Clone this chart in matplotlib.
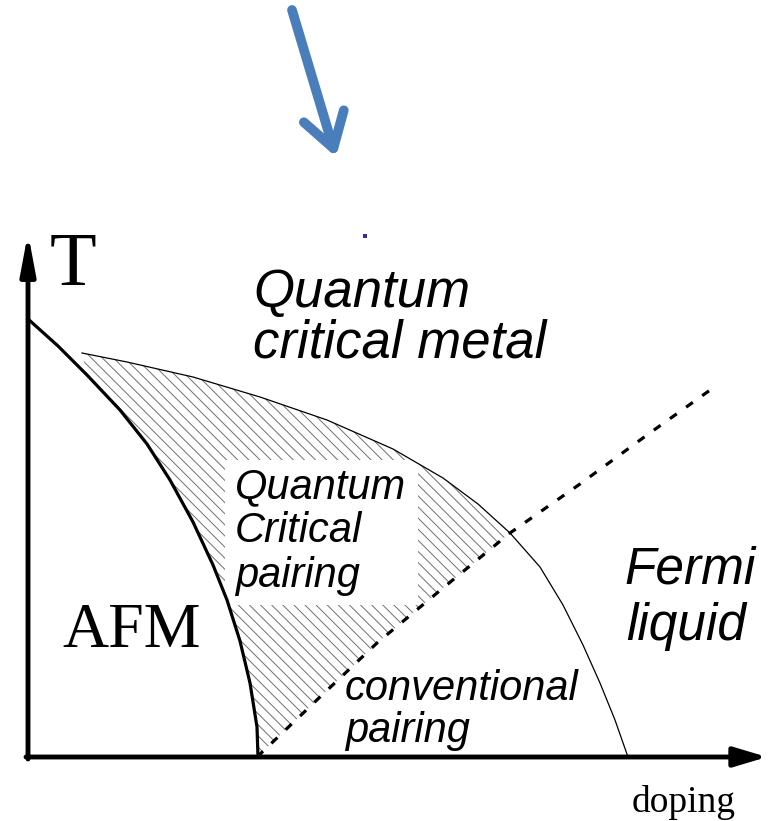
import matplotlib.pyplot as plt
import matplotlib.patches as mpatches
import numpy as np

# boundary curves (doping, T) in arbitrary units, origin at axis corner
afm_doping = [0, 30, 59, 92, 119, 142, 165, 185, 199, 212, 222, 229, 230]
afm_T = [438, 411, 382, 347, 313, 277, 235, 192, 157, 116, 74, 30, 0]

dome_doping = [54, 99, 165, 232, 299, 365, 415, 450, 482, 512, 535, 555, 572, 587, 600]
dome_T = [404, 395, 380, 360, 337, 308, 279, 253, 224, 190, 152, 112, 74, 37, 0]

cross_doping = [229, 292, 349, 415, 482, 552, 619, 685]
cross_T = [0, 60, 114, 169, 224, 273, 322, 369]

box_doping = [197, 390]
box_T = [152, 297]

labels_serif = ['T', 'AFM', 'doping']
labels_serif_xy = [(22, 472), (34, 110), (604, -55)]
labels_serif_size = [55, 46, 27]

labels_sans = ['Quantum', 'critical metal', 'Quantum', 'Critical', 'pairing',
               'Fermi', 'liquid', 'conventional', 'pairing']
labels_sans_xy = [(225, 450), (225, 400), (207, 259), (207, 215), (207, 170),
                  (596, 174), (598, 117), (317, 57), (317, 15)]
labels_sans_size = [38, 38, 30, 30, 30, 37, 37, 30, 30]

plt.rcParams['hatch.linewidth'] = 0.7

fig = plt.figure(figsize=(7.74, 8.21), dpi=100)
ax = fig.add_axes([0, 0, 1, 1])
ax.set_xlim(-28, 746)
ax.set_ylim(-64, 757)
ax.axis('off')

# hatched quantum critical pairing region
i_cross = dome_doping.index(482)
j_cross = cross_doping.index(482)
poly_x = dome_doping[:i_cross + 1] + cross_doping[:j_cross][::-1] + afm_doping[::-1][1:-2]
poly_y = dome_T[:i_cross + 1] + cross_T[:j_cross][::-1] + afm_T[::-1][1:-2]
hatch = mpatches.Polygon(np.column_stack([poly_x, poly_y]), closed=True,
                         facecolor='none', edgecolor='#707070', linewidth=0,
                         hatch='\\\\\\')
ax.add_patch(hatch)
ax.add_patch(mpatches.Rectangle((box_doping[0], box_T[0]), box_doping[1] - box_doping[0],
                                box_T[1] - box_T[0], facecolor='white', edgecolor='none'))

ax.plot(afm_doping, afm_T, color='black', lw=2.3, solid_joinstyle='round')
ax.plot(dome_doping, dome_T, color='black', lw=0.9, solid_joinstyle='round')
ax.plot(cross_doping, cross_T, color='black', lw=2.3, linestyle=(0, (2.6, 3.6)))

# axes arrows
ax.annotate('', xy=(0, 524), xytext=(0, -2),
            arrowprops=dict(arrowstyle='-|>,head_length=24,head_width=4.5', mutation_scale=1,
                            lw=3.5, color='black', shrinkA=0, shrinkB=0))
ax.annotate('', xy=(739, 0), xytext=(-2, 0),
            arrowprops=dict(arrowstyle='-|>,head_length=20,head_width=6', mutation_scale=1,
                            lw=3.5, color='black', shrinkA=0, shrinkB=0))

for s, (x, y), fs in zip(labels_serif, labels_serif_xy, labels_serif_size):
    ax.text(x, y, s, fontsize=fs, family='Liberation Serif', va='baseline', ha='left')
for s, (x, y), fs in zip(labels_sans, labels_sans_xy, labels_sans_size):
    ax.text(x, y, s, fontsize=fs, family='Liberation Sans', style='italic',
            va='baseline', ha='left')

# blue pointer arrow on top
ax.annotate('', xy=(308, 600), xytext=(264, 747),
            arrowprops=dict(arrowstyle='->,head_length=24,head_width=15', mutation_scale=1,
                            lw=7, color='#4a7ebb', shrinkA=0, shrinkB=0,
                            capstyle='round', joinstyle='round'))
ax.plot([337], [521], marker='s', ms=2.5, color='#3a2a9a', mew=0)

fig.savefig('out.png', dpi=100)
